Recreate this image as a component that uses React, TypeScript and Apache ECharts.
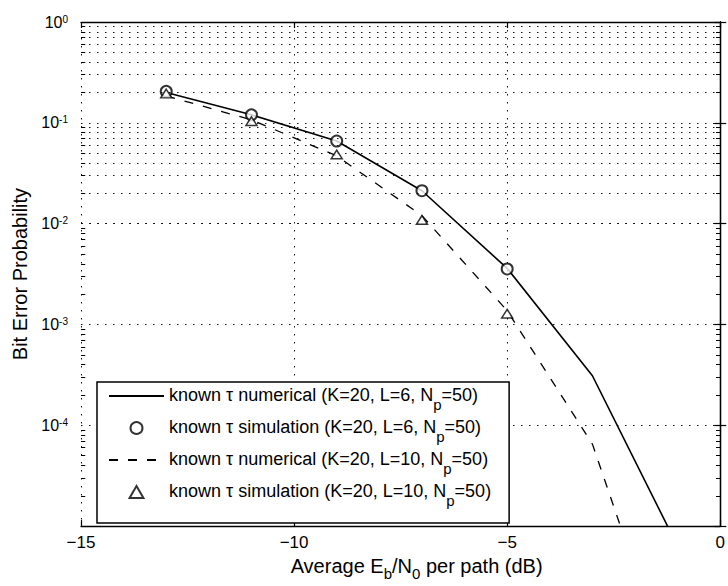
import React, { useEffect, useRef } from 'react';
import * as echarts from 'echarts';

// ---- data ----
const snrDb = [-13, -11, -9, -7, -5, -3, -1];
const numericalL6 = [0.2, 0.12, 0.066, 0.0212, 0.0036, 3.1e-4, 6.3e-6];
const numericalL10 = [0.185, 0.107, 0.047, 0.012, 0.00137, 6.5e-5, 2.2e-7];
const simSnrDb = [-13, -11, -9, -7, -5];
const simulationL6 = [0.205, 0.12, 0.066, 0.0212, 0.00355];
const simulationL10 = [0.195, 0.104, 0.0486, 0.0109, 0.00128];
const xTickValues = [-15, -10, -5, 0];
const yDecadeExponents = [-5, -4, -3, -2, -1];
const minorMultipliers = [2, 3, 4, 5, 6, 7, 8, 9];
const seriesNames = [
  'known τ numerical (K=20, L=6, N_p=50)',
  'known τ simulation (K=20, L=6, N_p=50)',
  'known τ numerical (K=20, L=10, N_p=50)',
  'known τ simulation (K=20, L=10, N_p=50)',
];
const xTitle = ['Average E', 'b', '/N', '0', ' per path (dB)'];
const yTitle = 'Bit Error Probability';

const FONT = '"Liberation Sans", Arial, Helvetica, sans-serif';
const DOT: [number, number] = [1.5, 6.5];
const TRIANGLE = 'path://M5,0L10,8.66L0,8.66Z';

export default function App() {
  const ref = useRef<HTMLDivElement>(null);
  useEffect(() => {
    const chart = echarts.init(ref.current!, null, { renderer: 'svg' });

    const minorValues: number[] = [];
    yDecadeExponents.forEach((d) => {
      minorMultipliers.forEach((m) => minorValues.push(m * Math.pow(10, d)));
    });
    const xMin = xTickValues[0];
    const xMax = xTickValues[xTickValues.length - 1];
    const tickLen = 0.1;
    const solidTick = { color: '#000', width: 1, type: 'solid' };
    const minorTickSegments: any[] = [];
    minorValues.forEach((v) => {
      minorTickSegments.push([{ coord: [xMin, v], lineStyle: solidTick }, { coord: [xMin + tickLen, v] }]);
      minorTickSegments.push([{ coord: [xMax - tickLen, v], lineStyle: solidTick }, { coord: [xMax, v] }]);
    });

    const axisLine = { show: true, lineStyle: { color: '#000', width: 1.3 } };
    const axisTick = { show: true, inside: true, length: 6, lineStyle: { color: '#000', width: 1.2 } };
    const splitLine = { show: true, lineStyle: { color: '#111', width: 1, type: DOT } };

    const yFormatter = (v: number) => {
      const e = Math.round(Math.log10(v));
      if (e === -5) return '';
      return `{b|10}{e|${e < 0 ? '-' + -e : e}}`;
    };

    const option: any = {
      animation: false,
      backgroundColor: '#fff',
      textStyle: { fontFamily: FONT },
      grid: { left: 81, right: 6, top: 22, bottom: 51, containLabel: false },
      xAxis: [
        {
          type: 'value',
          position: 'bottom',
          min: xMin,
          max: xMax,
          interval: 5,
          axisLine,
          axisTick,
          splitLine,
          axisLabel: {
            fontFamily: FONT,
            fontSize: 17,
            color: '#000',
            margin: 8,
            formatter: (v: number) => (v === 0 ? '0' : '\u2212' + Math.abs(v)),
          },
          name: `{a|${xTitle[0]}}{s|${xTitle[1]}}{a|${xTitle[2]}}{s|${xTitle[3]}}{a|${xTitle[4]}}`,
          nameLocation: 'middle',
          nameGap: 22,
          nameTextStyle: {
            padding: [0, 0, 0, 32],
            rich: {
              a: { fontFamily: FONT, fontSize: 20, lineHeight: 22, verticalAlign: 'top', color: '#000' },
              s: { fontFamily: FONT, fontSize: 15, lineHeight: 15, padding: [10, 0, 0, 0], verticalAlign: 'top', color: '#000' },
            },
          },
        },
        {
          type: 'value',
          position: 'top',
          min: xMin,
          max: xMax,
          interval: 5,
          axisLine,
          axisTick,
          splitLine: { show: false },
          axisLabel: { show: false },
        },
      ],
      yAxis: [
        {
          type: 'log',
          logBase: 10,
          position: 'left',
          min: 1e-5,
          max: 1,
          splitNumber: 5,
          axisLine,
          axisTick,
          splitLine,
          minorTick: { show: false },
          axisLabel: {
            fontFamily: FONT,
            margin: 13,
            formatter: yFormatter,
            rich: {
              b: { fontFamily: FONT, fontSize: 16, lineHeight: 16, verticalAlign: 'top', color: '#000' },
              e: { fontFamily: FONT, fontSize: 10, lineHeight: 10, verticalAlign: 'top', color: '#000' },
            },
          },
          name: yTitle,
          nameLocation: 'middle',
          nameRotate: 90,
          nameGap: 47,
          nameTextStyle: { fontFamily: FONT, fontSize: 20, color: '#000' },
        },
        {
          type: 'log',
          logBase: 10,
          position: 'right',
          min: 1e-5,
          max: 1,
          splitNumber: 5,
          axisLine,
          axisTick,
          splitLine: { show: false },
          axisLabel: { show: false },
        },
      ],
      legend: {
        data: [
          { name: seriesNames[0], itemStyle: { opacity: 0 } },
          { name: seriesNames[1] },
          { name: seriesNames[2], itemStyle: { opacity: 0 } },
          { name: seriesNames[3] },
        ],
        orient: 'vertical',
        left: 97,
        top: 382,
        padding: [4, 18, 15, 11],
        itemGap: 6,
        itemWidth: 55,
        itemHeight: 12,
        symbolKeepAspect: true,
        backgroundColor: '#fff',
        borderColor: '#000',
        borderWidth: 1.5,
        borderRadius: 0,
        selectedMode: false,
        formatter: (name: string) => {
          const [pre, post] = name.split('_p');
          return `{a|${pre}}{s|p}{a|${post}}`;
        },
        textStyle: {
          fontFamily: FONT,
          fontSize: 18,
          color: '#000',
          rich: {
            a: { fontFamily: FONT, fontSize: 18, lineHeight: 20, verticalAlign: 'top', color: '#000' },
            s: { fontFamily: FONT, fontSize: 15, lineHeight: 15, padding: [11, 0, 0, 0], verticalAlign: 'top', color: '#000' },
          },
        },
      },
      series: [
        {
          name: seriesNames[0],
          type: 'line',
          data: snrDb.map((x, i) => [x, numericalL6[i]]),
          symbol: 'none',
          clip: true,
          color: '#000',
          lineStyle: { color: '#000', width: 1.6, type: 'solid' },
          z: 3,
          markLine: {
            silent: true,
            symbol: ['none', 'none'],
            label: { show: false },
            lineStyle: { color: '#111', width: 1, type: DOT },
            data: [...minorValues.map((v) => ({ yAxis: v })), ...minorTickSegments],
          },
        },
        {
          name: seriesNames[1],
          type: 'scatter',
          data: simSnrDb.map((x, i) => [x, simulationL6[i]]),
          symbol: 'emptyCircle',
          symbolSize: 11,
          color: '#000',
          itemStyle: { color: '#000', borderColor: '#000', borderWidth: 1.5 },
          z: 4,
        },
        {
          name: seriesNames[2],
          type: 'line',
          data: snrDb.map((x, i) => [x, numericalL10[i]]),
          symbol: 'none',
          clip: true,
          color: '#000',
          lineStyle: { color: '#000', width: 1.3, type: [9, 10] },
          z: 3,
        },
        {
          name: seriesNames[3],
          type: 'scatter',
          data: simSnrDb.map((x, i) => [x, simulationL10[i]]),
          symbol: TRIANGLE,
          symbolSize: [11, 10],
          symbolKeepAspect: true,
          color: '#fff',
          itemStyle: { color: '#fff', borderColor: '#000', borderWidth: 1.5 },
          z: 5,
        },
      ],
    };

    chart.setOption(option);
    return () => chart.dispose();
  }, []);

  return (
    <div
      ref={ref}
      style={{ position: 'fixed', left: 0, top: 0, width: 728, height: 586, background: '#fff' }}
    />
  );
}
